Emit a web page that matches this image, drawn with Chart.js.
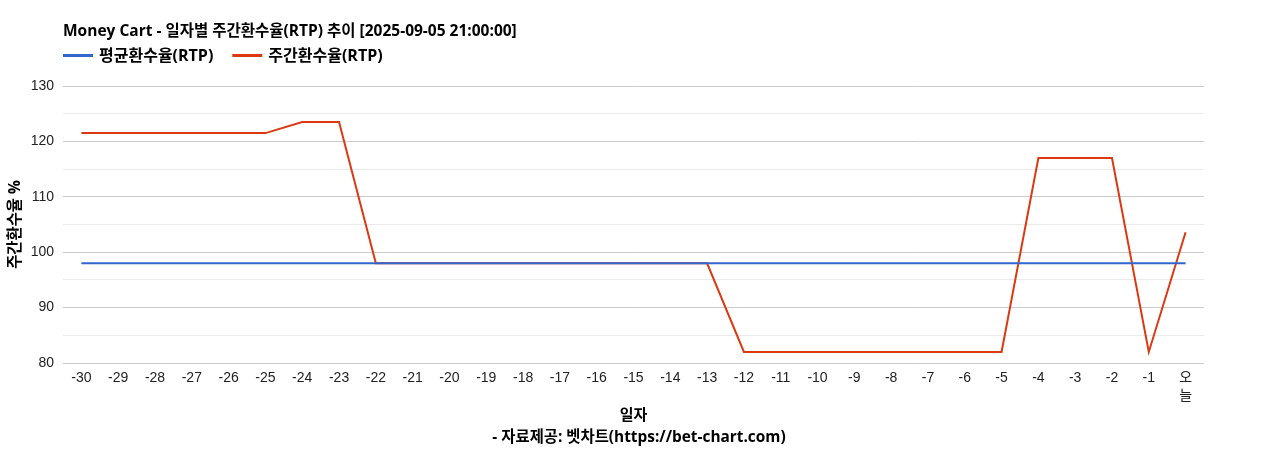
<!DOCTYPE html>
<html><head><meta charset="utf-8">
<script src="https://cdn.jsdelivr.net/npm/chart.js@4.4.0/dist/chart.umd.min.js"></script>
<style>html,body{margin:0;padding:0;background:#fff}#wrap{width:1268px;height:450px;position:relative}</style>
</head><body><div id="wrap"><canvas id="c"></canvas></div>
<script>
const chartTitle = 'Money Cart - 일자별 주간환수율(RTP) 추이 [2025-09-05 21:00:00]';
const creditText = '- 자료제공: 벳차트(https://bet-chart.com)';
const xAxisTitle = '일자';
const yAxisTitle = '주간환수율 %';
const categories = ['-30','-29','-28','-27','-26','-25','-24','-23','-22','-21','-20','-19','-18','-17','-16','-15','-14','-13','-12','-11','-10','-9','-8','-7','-6','-5','-4','-3','-2','-1',['오','늘']];
const seriesNames = ['평균환수율(RTP)', '주간환수율(RTP)'];
const avgRTP = [98,98,98,98,98,98,98,98,98,98,98,98,98,98,98,98,98,98,98,98,98,98,98,98,98,98,98,98,98,98,98];
const weeklyRTP = [121.5,121.5,121.5,121.5,121.5,121.5,123.5,123.5,98,98,98,98,98,98,98,98,98,98,82,82,82,82,82,82,82,82,117,117,117,82,103.6];
const yTicks = [80, 90, 100, 110, 120, 130];

const FONT = '"Liberation Sans", Arial, "Noto Sans CJK KR", sans-serif';
const BFONT = '"Open Sans", "Noto Sans CJK KR", sans-serif';
const colors = ['#3366cc', '#dc3912'];

const headerPlugin = {
  id: 'header',
  afterDraw(chart) {
    const ctx = chart.ctx;
    ctx.save();
    ctx.fillStyle = '#000';
    ctx.textBaseline = 'middle';
    ctx.textAlign = 'left';
    ctx.font = 'bold 15.5px ' + BFONT;
    ctx.fillText(chartTitle, 63, 31.5);
    ctx.font = 'bold 16px ' + BFONT;
    let x = 63;
    chart.data.datasets.forEach((ds) => {
      ctx.strokeStyle = ds.borderColor;
      ctx.lineWidth = 3;
      ctx.beginPath();
      ctx.moveTo(x, 55.5);
      ctx.lineTo(x + 30, 55.5);
      ctx.stroke();
      ctx.fillStyle = '#000';
      ctx.fillText(ds.label, x + 36, 56);
      x += 36 + ctx.measureText(ds.label).width + 19;
    });
    ctx.font = 'bold 15.4px ' + BFONT;
    ctx.textAlign = 'center';
    ctx.fillText(creditText, 639, 437.5);
    ctx.restore();
  }
};

new Chart(document.getElementById('c'), {
  type: 'line',
  data: {
    labels: categories,
    datasets: [
      { label: seriesNames[0], data: avgRTP, borderColor: colors[0], backgroundColor: colors[0], borderWidth: 2, pointRadius: 0, tension: 0 },
      { label: seriesNames[1], data: weeklyRTP, borderColor: colors[1], backgroundColor: colors[1], borderWidth: 2, pointRadius: 0, tension: 0 }
    ]
  },
  options: {
    responsive: true,
    maintainAspectRatio: false,
    animation: false,
    layout: { padding: { top: 86, right: 64, bottom: 0, left: 0 } },
    plugins: { legend: { display: false }, title: { display: false }, tooltip: { enabled: false } },
    scales: {
      x: {
        offset: true,
        grid: { display: false, drawTicks: false },
        border: { display: false },
        ticks: { autoSkip: false, maxRotation: 0, minRotation: 0, padding: 6, color: '#222', font: { family: FONT, size: 14, lineHeight: 1.3 } },
        title: { display: true, text: xAxisTitle, color: '#000', font: { family: BFONT, size: 15, weight: 'bold' }, padding: { top: 0, bottom: 25 } },
        afterFit(scale) { scale.height = 87; }
      },
      y: {
        min: yTicks[0],
        max: yTicks[yTicks.length - 1],
        grid: {
          drawTicks: false,
          color: (c) => (yTicks.includes(c.tick.value) ? '#cccccc' : '#ebebeb'),
          lineWidth: 1
        },
        border: { display: false },
        ticks: {
          stepSize: 5,
          padding: 9,
          color: '#222',
          font: { family: FONT, size: 14 },
          callback: (v) => (yTicks.includes(v) ? String(v) : '')
        },
        title: { display: true, text: yAxisTitle, color: '#000', font: { family: BFONT, size: 15.4, weight: 'bold' }, padding: { top: 6, bottom: 0 } },
        afterFit(scale) { scale.width = 63; }
      }
    }
  },
  plugins: [headerPlugin]
});
</script></body></html>
